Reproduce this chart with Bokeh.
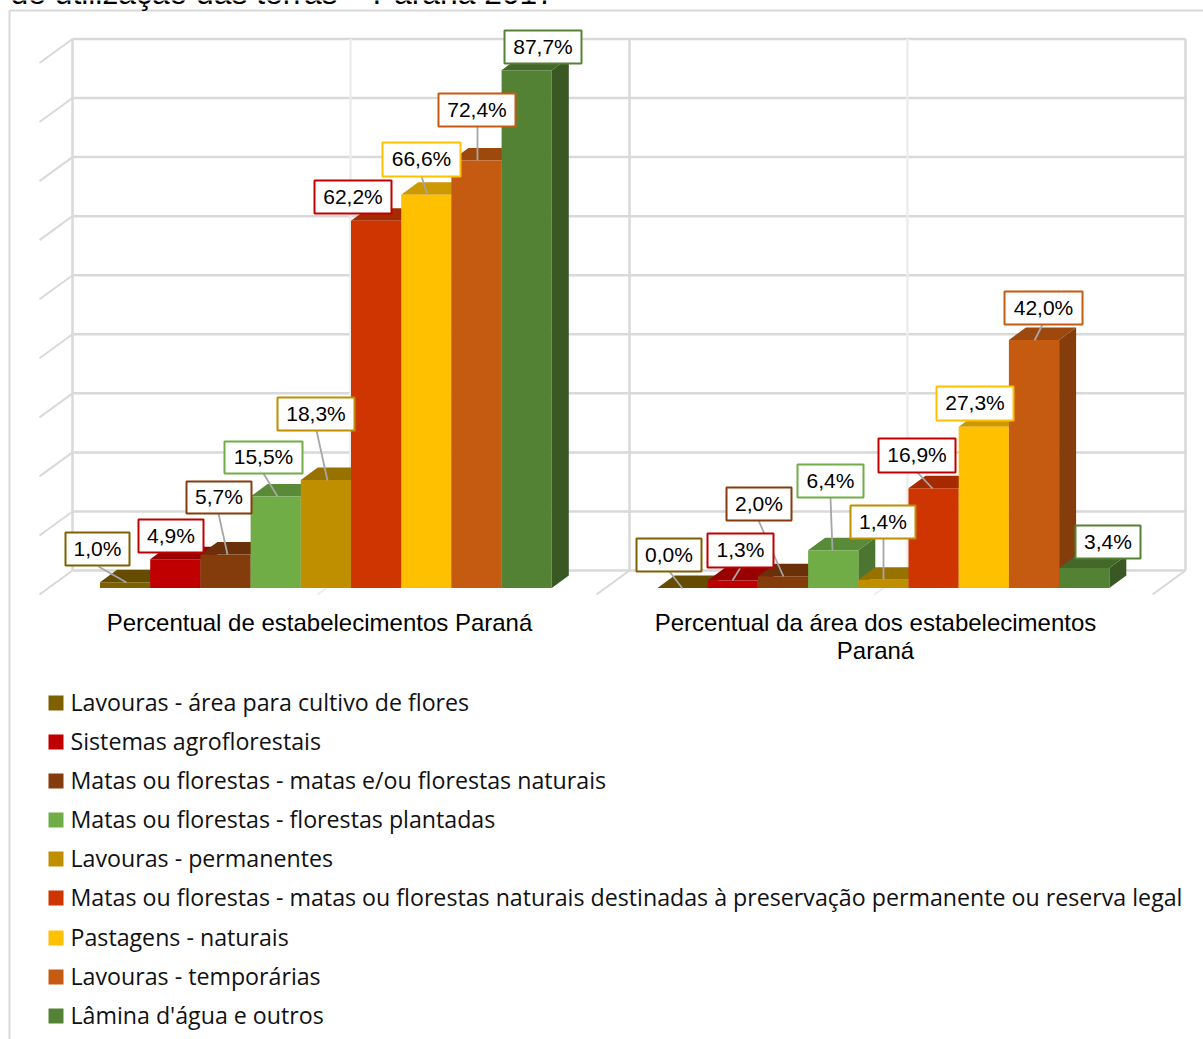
from bokeh.plotting import figure
from bokeh.embed import file_html
from bokeh.resources import INLINE
from bokeh.core.properties import value

categories = ["Percentual de estabelecimentos Paraná", "Percentual da área dos estabelecimentos"]
category_line2 = ["", "Paraná"]
series = ["Lavouras - área para cultivo de flores", "Sistemas agroflorestais",
          "Matas ou florestas - matas e/ou florestas naturais", "Matas ou florestas - florestas plantadas",
          "Lavouras - permanentes",
          "Matas ou florestas - matas ou florestas naturais destinadas à preservação permanente ou reserva legal",
          "Pastagens - naturais", "Lavouras - temporárias", "Lâmina d'água e outros"]
estabelecimentos = [1.0, 4.9, 5.7, 15.5, 18.3, 62.2, 66.6, 72.4, 87.7]
area = [0.0, 1.3, 2.0, 6.4, 1.4, 16.9, 27.3, 42.0, 3.4]
colors = ["#7F6000", "#C00000", "#843C0C", "#70AD47", "#BF8F00", "#CF3500", "#FFC000", "#C55A11", "#548235"]
label_borders = ["#7F6000", "#C00000", "#843C0C", "#70AD47", "#BF8F00", "#C00000", "#FFC000", "#C55A11", "#548235"]
title_text = "de utilização das terras – Paraná 2017"
grid_ticks = [0, 10, 20, 30, 40, 50, 60, 70, 80, 90]

# label boxes in page pixels (left, right, top, bottom)
boxes = [
    [(65,129,532,565),(138,203,519,552),(186,251,481,513),(224,302,441,473),(277,354,397,430),
     (314,391,180,213),(382,460,142,176),(438,515,93,126),(504,581,30,63)],
    [(636,701,538,571),(707,773,533,567),(726,791,487,520),(797,863,464,497),(850,915,505,538),
     (878,955,438,472),(936,1013,386,420),(1004,1082,291,324),(1075,1140,525,558)],
]
leaders = [
    [((98,566),(126,582)),None,((218,513),(227,554)),((263,473),(277,496)),((316,430),(327,480)),
     None,((421,176),(427,194)),((477,126),(477,160)),None],
    [((669,571),(682,588)),((740,567),(732,580)),((758,520),(783,576)),((830,497),(832,550)),((883,538),(883,579)),
     ((917,472),(932,488)),None,((1042,324),(1034,340)),None],
]

W, H = 1203, 1039
PX_X = 557.5      # pixels per category
PX_Y = 5.906      # pixels per percent
X0, Y0 = 325.4, 587.6
def X(px): return (px - X0) / PX_X
def Y(py): return (Y0 - py) / PX_Y
BAR = 50.2 / PX_X
DX, DY = 17 / PX_X, 12.5 / PX_Y

def shade(c, f):
    r, g, b = int(c[1:3],16), int(c[3:5],16), int(c[5:7],16)
    return "#%02X%02X%02X" % (int(r*f), int(g*f), int(b*f))

p = figure(width=W, height=H, output_backend="svg", toolbar_location=None,
           x_range=(X(0), X(W)), y_range=(Y(H), Y(0)), min_border=0,
           margin=(0, 0, 0, 0))
p.axis.visible = False
p.grid.visible = False
p.outline_line_color = None
p.background_fill_color = "white"

GRID = "#D9D9D9"
LIGHT = "#EDEDED"
# chart frame
p.line([X(9), X(9)], [Y(H), Y(10)], line_color=GRID, line_width=2)
p.line([X(9), X(W)], [Y(10), Y(10)], line_color=GRID, line_width=2)
# title, cut by the page top
p.text([X(10)], [Y(-8)], text=[title_text], text_font=value("Liberation Sans"), text_font_size="31.8px",
       text_baseline="middle", text_color="#000000")

# walls
WDX, WDY = 33 / PX_X, 24 / PX_Y
wall_l, wall_r = X(72), X(1185)
floor = Y(570)
for t in grid_ticks:
    yy = floor + t
    p.line([wall_l, wall_r], [yy, yy], line_color=GRID, line_width=2.5)
    p.line([wall_l - WDX, wall_l], [yy - WDY, yy], line_color=GRID, line_width=2)
top = floor + grid_ticks[-1]
for px, col in ((350, LIGHT), (907, LIGHT), (72, GRID), (629, GRID), (1185, GRID)):
    p.line([X(px), X(px)], [floor, top], line_color=col, line_width=2.5)
    if px != 72:
        p.line([X(px) - WDX, X(px)], [floor - WDY, floor], line_color=col, line_width=2)

# bars
n = len(series)
for ci, vals in enumerate([estabelecimentos, area]):
    for si, v in enumerate(vals):
        c = colors[si]
        x0 = ci + (si - n / 2) * BAR
        x1 = x0 + BAR
        p.patch([x1, x1 + DX, x1 + DX, x1], [0, DY, v + DY, v], fill_color=shade(c, 0.68), line_color=None)
        p.patch([x0, x0 + DX, x1 + DX, x1], [v, v + DY, v + DY, v], fill_color=shade(c, 0.8), line_color=None)
        p.patch([x0, x1, x1, x0], [0, 0, v, v], fill_color=c, line_color=None)

# labels
LBL = "#A6A6A6"
for ci, vals in enumerate([estabelecimentos, area]):
    for si, v in enumerate(vals):
        if leaders[ci][si]:
            (ax, ay), (bx, by) = leaders[ci][si]
            p.line([X(ax), X(bx)], [Y(ay), Y(by)], line_color=LBL, line_width=1.8)
for ci, vals in enumerate([estabelecimentos, area]):
    for si, v in enumerate(vals):
        l, r, t, b = boxes[ci][si]
        p.quad(left=[X(l)], right=[X(r)], top=[Y(t)], bottom=[Y(b)], fill_color="white",
               line_color=label_borders[si], line_width=2)
        p.text([X((l + r) / 2)], [Y((t + b) / 2 - 0.6)], text=[f"{v:.1f}%".replace(".", ",")],
               text_font=value("Liberation Sans"), text_font_size="21px", text_align="center",
               text_baseline="middle", text_color="#000000")

# category labels
cat_x = [319, 875]
for i, s in enumerate(categories):
    p.text([X(cat_x[i])], [Y(621.5)], text=[s], text_font=value("Liberation Sans"), text_font_size="24px",
           text_align="center", text_baseline="middle", text_color="#000000")
    if category_line2[i]:
        p.text([X(cat_x[i])], [Y(649.5)], text=[category_line2[i]], text_font=value("Liberation Sans"),
               text_font_size="24px", text_align="center", text_baseline="middle", text_color="#000000")

# legend
leg_y = [702.5, 741.5, 780.5, 819.5, 858.5, 897.5, 937.5, 976.5, 1015.5]
for i, s in enumerate(series):
    p.quad(left=[X(48)], right=[X(63)], top=[Y(leg_y[i] - 7.5)], bottom=[Y(leg_y[i] + 7.5)],
           fill_color=colors[i], line_color=None)
    p.text([X(70)], [Y(leg_y[i] - 0.7)], text=[s], text_font=value("Open Sans"), text_font_size="23.2px",
           text_baseline="middle", text_color="#111111")

open("out.html", "w").write(file_html(p, INLINE))
